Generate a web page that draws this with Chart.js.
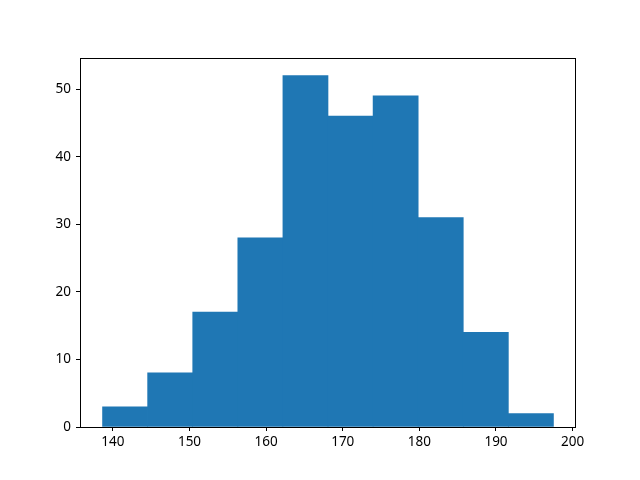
<!DOCTYPE html>
<html><head><meta charset="utf-8">
<script src="https://cdn.jsdelivr.net/npm/chart.js@4/dist/chart.umd.min.js"></script>
<style>html,body{margin:0;padding:0;background:#fff}#c{display:block}</style>
</head><body>
<canvas id="c" width="640" height="480"></canvas>
<script>
const binEdges = [138.65, 144.535, 150.42, 156.305, 162.19, 168.075, 173.96, 179.845, 185.73, 191.615, 197.5];
const counts = [3, 8, 17, 28, 52, 46, 49, 31, 14, 2];
const xTicks = [140, 150, 160, 170, 180, 190, 200];
const yTicks = [0, 10, 20, 30, 40, 50];

const barData = counts.map((c, i) => ({x: (binEdges[i] + binEdges[i+1]) / 2, y: c}));
const span = binEdges[binEdges.length-1] - binEdges[0];
const xMin = binEdges[0] - 0.05 * span, xMax = binEdges[binEdges.length-1] + 0.05 * span;
const yMax = Math.max(...counts) * 1.05;

const frame = {
  id: 'frame',
  afterDraw(chart) {
    const {ctx, chartArea: a} = chart;
    ctx.save();
    ctx.strokeStyle = '#000'; ctx.lineWidth = 1;
    ctx.strokeRect(Math.round(a.left) + 0.5, Math.round(a.top) + 0.5, Math.round(a.right - a.left) - 1, Math.round(a.bottom - a.top));
    ctx.restore();
  }
};

new Chart(document.getElementById('c'), {
  type: 'bar',
  data: { datasets: [{ data: barData, backgroundColor: '#1f77b4', borderWidth: 0, barPercentage: 1, categoryPercentage: 1, grouped: false }] },
  options: {
    responsive: false, animation: false,
    layout: { padding: { left: 0, right: 64, top: 58, bottom: 0 } },
    plugins: { legend: { display: false }, tooltip: { enabled: false } },
    font: { family: 'Noto Sans' },
    scales: {
      x: {
        type: 'linear', min: xMin, max: xMax, offset: false,
        afterBuildTicks: s => { s.ticks = xTicks.map(v => ({value: v})); },
        afterFit: s => { s.height = 53; },
        grid: { offset: false, drawOnChartArea: false, tickLength: 4, tickColor: '#000', color: '#000' },
        border: { display: false },
        ticks: { color: '#000', padding: 3, maxRotation: 0, font: { family: 'Noto Sans', size: 13.5 } }
      },
      y: {
        min: 0, max: yMax,
        afterBuildTicks: s => { s.ticks = yTicks.map(v => ({value: v})); },
        afterFit: s => { s.width = 80; },
        grid: { drawOnChartArea: false, tickLength: 4, tickColor: '#000', color: '#000' },
        border: { display: false },
        ticks: { color: '#000', padding: 5, font: { family: 'Noto Sans', size: 13.5 } }
      }
    }
  },
  plugins: [frame]
});
</script>
</body></html>
